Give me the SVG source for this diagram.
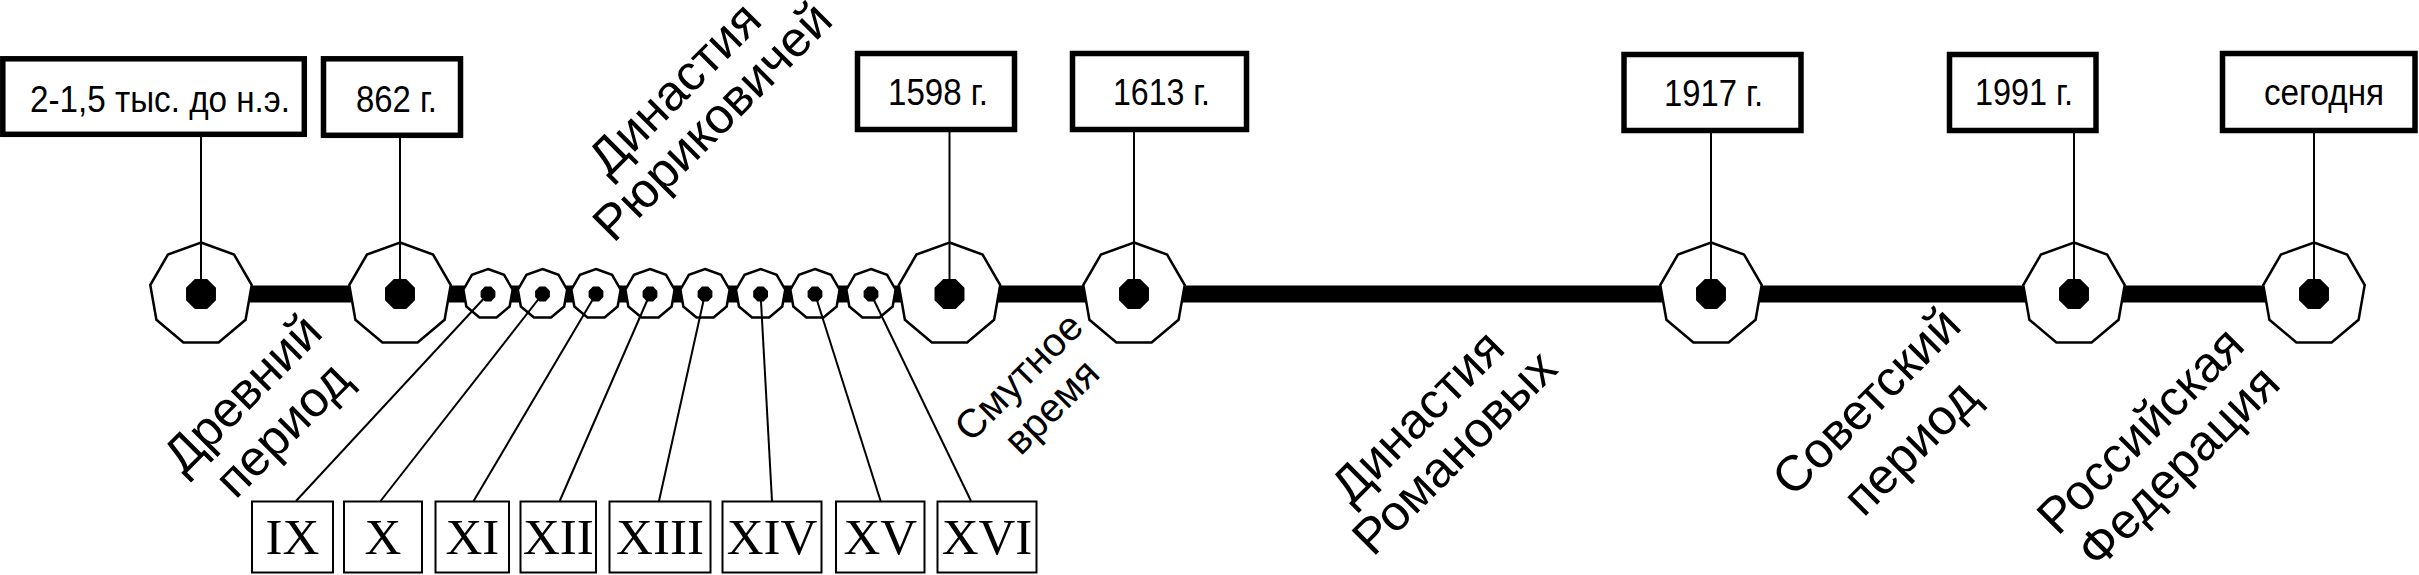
<svg xmlns="http://www.w3.org/2000/svg" xmlns:xlink="http://www.w3.org/1999/xlink" width="2419" height="575" viewBox="0 0 2419 575">
<style>
.date{fill:#fff;stroke:#000;stroke-width:5.5}
.dtxt{font-family:"Liberation Sans",Arial,sans-serif;font-size:36px;fill:#000}
.rom{fill:#fff;stroke:#000;stroke-width:2}
.rtxt{font-family:"Liberation Serif","Times New Roman",serif;font-size:51px;fill:#000;text-anchor:middle}
.lbl{font-family:"Liberation Sans",Arial,sans-serif;font-size:50px;fill:#000;text-anchor:middle}
.lbls{font-family:"Liberation Sans",Arial,sans-serif;font-size:40px;fill:#000;text-anchor:middle}
.ngon{fill:#fff;stroke:#000;stroke-width:2.5;stroke-linejoin:miter}
.thin{stroke:#000;stroke-width:2;fill:none}
.axis{stroke:#000;stroke-width:17}
</style>
<defs>
<polygon id="big" class="ngon" points="0,-51.5 33.10,-39.45 50.72,-8.94 44.60,25.75 17.61,48.39 -17.61,48.39 -44.60,25.75 -50.72,-8.94 -33.10,-39.45"/>
<polygon id="small" class="ngon" points="0,-25 16.07,-19.15 24.62,-4.34 21.65,12.5 8.55,23.49 -8.55,23.49 -21.65,12.5 -24.62,-4.34 -16.07,-19.15"/>
<polygon id="dot" fill="#000" points="14.97,6.2 6.2,14.97 -6.2,14.97 -14.97,6.2 -14.97,-6.2 -6.2,-14.97 6.2,-14.97 14.97,-6.2"/>
<polygon id="sdot" fill="#000" points="7.39,3.06 3.06,7.39 -3.06,7.39 -7.39,3.06 -7.39,-3.06 -3.06,-7.39 3.06,-7.39 7.39,-3.06"/>
</defs>
<rect width="2419" height="575" fill="#fff"/>
<g id="axis"><line class="axis" x1="201" y1="294" x2="2314" y2="294"/></g>
<g id="ev-ancient"><rect class="date" x="2.8" y="58.8" width="301.5" height="75.5"/><text class="dtxt" x="30" y="112" textLength="260" lengthAdjust="spacingAndGlyphs">2-1,5 тыс. до н.э.</text><use xlink:href="#big" x="201" y="294"/></g>
<g id="ev-862"><rect class="date" x="323.5" y="58.8" width="137" height="76.5"/><text class="dtxt" x="356" y="112" textLength="81" lengthAdjust="spacingAndGlyphs">862 г.</text><use xlink:href="#big" x="400" y="294"/></g>
<g id="ev-1598"><rect class="date" x="857.5" y="53.5" width="157" height="76"/><text class="dtxt" x="888" y="105" textLength="100" lengthAdjust="spacingAndGlyphs">1598 г.</text><use xlink:href="#big" x="949.5" y="294"/></g>
<g id="ev-1613"><rect class="date" x="1072.5" y="53.5" width="174" height="76"/><text class="dtxt" x="1113" y="105" textLength="97" lengthAdjust="spacingAndGlyphs">1613 г.</text><use xlink:href="#big" x="1134" y="294"/></g>
<g id="ev-1917"><rect class="date" x="1624" y="54.5" width="177" height="76"/><text class="dtxt" x="1664" y="106" textLength="99" lengthAdjust="spacingAndGlyphs">1917 г.</text><use xlink:href="#big" x="1711" y="294"/></g>
<g id="ev-1991"><rect class="date" x="1949.5" y="54.5" width="146.5" height="76"/><text class="dtxt" x="1975" y="105" textLength="98" lengthAdjust="spacingAndGlyphs">1991 г.</text><use xlink:href="#big" x="2074" y="294"/></g>
<g id="ev-today"><rect class="date" x="2222.5" y="53.5" width="192.5" height="77"/><text class="dtxt" x="2264" y="105" textLength="120" lengthAdjust="spacingAndGlyphs">сегодня</text><use xlink:href="#big" x="2314" y="294"/></g>
<g id="c-IX"><use xlink:href="#small" x="488" y="294"/><rect class="rom" x="252" y="501.5" width="81" height="71"/><text class="rtxt" x="292.5" y="554">IX</text></g>
<g id="c-X"><use xlink:href="#small" x="542.5" y="294"/><rect class="rom" x="344" y="501.5" width="78" height="71"/><text class="rtxt" x="383" y="554">X</text></g>
<g id="c-XI"><use xlink:href="#small" x="596" y="294"/><rect class="rom" x="435.5" y="501.5" width="73.5" height="71"/><text class="rtxt" x="472.3" y="554">XI</text></g>
<g id="c-XII"><use xlink:href="#small" x="650" y="294"/><rect class="rom" x="520.5" y="501.5" width="75.5" height="71"/><text class="rtxt" x="558.3" y="554">XII</text></g>
<g id="c-XIII"><use xlink:href="#small" x="705" y="294"/><rect class="rom" x="609.5" y="501.5" width="101" height="71"/><text class="rtxt" x="660" y="554">XIII</text></g>
<g id="c-XIV"><use xlink:href="#small" x="760.6" y="294"/><rect class="rom" x="722.5" y="501.5" width="99" height="71"/><text class="rtxt" x="772" y="554">XIV</text></g>
<g id="c-XV"><use xlink:href="#small" x="815" y="294"/><rect class="rom" x="836" y="501.5" width="88.5" height="71"/><text class="rtxt" x="880.3" y="554">XV</text></g>
<g id="c-XVI"><use xlink:href="#small" x="871" y="294"/><rect class="rom" x="937.5" y="501.5" width="99" height="71"/><text class="rtxt" x="987" y="554">XVI</text></g>
<g id="connectors">
<line class="thin" x1="201" y1="136" x2="201" y2="294"/>
<line class="thin" x1="400" y1="137" x2="400" y2="294"/>
<line class="thin" x1="949.5" y1="132" x2="949.5" y2="294"/>
<line class="thin" x1="1134" y1="132" x2="1134" y2="294"/>
<line class="thin" x1="1711" y1="133" x2="1711" y2="294"/>
<line class="thin" x1="2074" y1="133" x2="2074" y2="294"/>
<line class="thin" x1="2314" y1="133" x2="2314" y2="294"/>
<line class="thin" x1="488" y1="294" x2="296" y2="501"/>
<line class="thin" x1="542.5" y1="294" x2="380.6" y2="501"/>
<line class="thin" x1="596" y1="294" x2="473.6" y2="501"/>
<line class="thin" x1="650" y1="294" x2="559.7" y2="501"/>
<line class="thin" x1="705" y1="294" x2="659" y2="501"/>
<line class="thin" x1="760.6" y1="294" x2="772" y2="501"/>
<line class="thin" x1="815" y1="294" x2="880.6" y2="501"/>
<line class="thin" x1="871" y1="294" x2="971" y2="501"/>
</g>
<g id="dots">
<use xlink:href="#dot" x="201" y="294"/><use xlink:href="#dot" x="400" y="294"/><use xlink:href="#dot" x="949.5" y="294"/><use xlink:href="#dot" x="1134" y="294"/><use xlink:href="#dot" x="1711" y="294"/><use xlink:href="#dot" x="2074" y="294"/><use xlink:href="#dot" x="2314" y="294"/>
<use xlink:href="#sdot" x="488" y="294"/><use xlink:href="#sdot" x="542.5" y="294"/><use xlink:href="#sdot" x="596" y="294"/><use xlink:href="#sdot" x="650" y="294"/><use xlink:href="#sdot" x="705" y="294"/><use xlink:href="#sdot" x="760.6" y="294"/><use xlink:href="#sdot" x="815" y="294"/><use xlink:href="#sdot" x="871" y="294"/>
</g>
<g id="labels">
<text class="lbl" transform="translate(243,394) rotate(-45)" y="16">Древний</text>
<text class="lbl" transform="translate(283,430) rotate(-45)" y="16">период</text>
<text class="lbl" transform="translate(675,89) rotate(-45)" y="16">Династия</text>
<text class="lbl" transform="translate(713,122) rotate(-45)" y="16">Рюриковичей</text>
<text class="lbls" transform="translate(1019,377) rotate(-45)" y="13">Смутное</text>
<text class="lbls" transform="translate(1052,407) rotate(-45)" y="13">время</text>
<text class="lbl" transform="translate(1418,417) rotate(-45)" y="16">Династия</text>
<text class="lbl" transform="translate(1455,453) rotate(-45)" y="16">Романовых</text>
<text class="lbl" transform="translate(1867,402) rotate(-45)" y="16">Советский</text>
<text class="lbl" transform="translate(1911,448) rotate(-45)" y="16">период</text>
<text class="lbl" transform="translate(2141,431) rotate(-45)" y="16">Российская</text>
<text class="lbl" transform="translate(2179,467) rotate(-45)" y="16">Федерация</text>
</g>
</svg>
